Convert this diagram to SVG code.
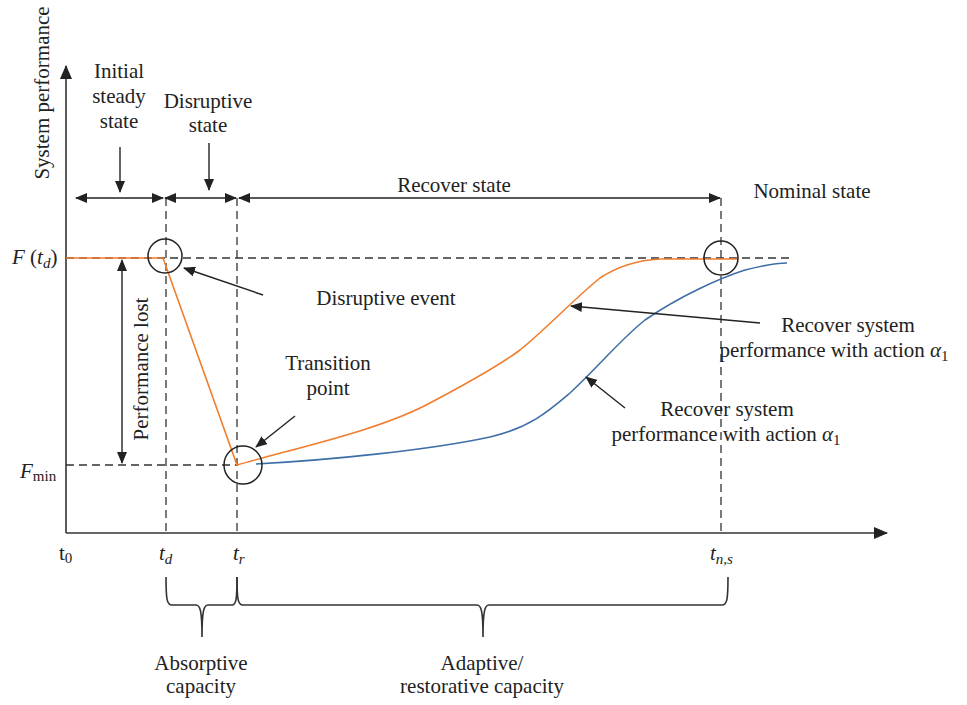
<svg xmlns="http://www.w3.org/2000/svg" width="967" height="705" viewBox="0 0 967 705">
<defs>
<marker id="ah" viewBox="0 0 12 10" refX="11" refY="5" markerWidth="12" markerHeight="10" markerUnits="userSpaceOnUse" orient="auto-start-reverse">
<path d="M0,0 L12,5 L0,10 Z" fill="#222"/>
</marker>
<marker id="ax" viewBox="0 0 14 12" refX="13" refY="6" markerWidth="14" markerHeight="12" markerUnits="userSpaceOnUse" orient="auto">
<path d="M0,0 L14,6 L0,12 Z" fill="#222"/>
</marker>
</defs>
<style>
text{font-family:'Liberation Serif','DejaVu Serif',serif;font-size:21px;fill:#222}
.it{font-style:italic}
.sub{font-size:15px}
.axis{stroke:#333;stroke-width:1.6;fill:none}
.dash{stroke:#333;stroke-width:1.3;stroke-dasharray:8,5;fill:none}
.arr{stroke:#222;stroke-width:1.4;fill:none}
.circ{stroke:#222;stroke-width:1.5;fill:none}
.brace{stroke:#333;stroke-width:1.6;fill:none}
</style>
<rect width="967" height="705" fill="#fff"/>
<g id="axes">
<line class="axis" x1="66" y1="533" x2="66" y2="66" marker-end="url(#ax)"/>
<line class="axis" x1="66" y1="533" x2="887" y2="533" marker-end="url(#ax)"/>
</g>
<g id="guides">
<line class="dash" x1="66" y1="258" x2="790" y2="258"/>
<line class="dash" x1="66" y1="465" x2="237" y2="465"/>
<line class="dash" x1="166" y1="198" x2="166" y2="533"/>
<line class="dash" x1="237" y1="198" x2="237" y2="533"/>
<line class="dash" x1="721" y1="198" x2="721" y2="533"/>
</g>
<g id="curves">
<path d="M66,258 L163,258 L237,465 C300,447 380,430 430,403 C470,382 500,365 520,350 C545,330 575,298 600,278 C620,265 640,260 660,259 L738,259" fill="none" stroke="#F07D2E" stroke-width="1.6"/>
<path d="M256,464 C330,460 430,450 490,437 C530,428 550,410 570,393 C600,365 620,340 645,320 C680,296 720,278 745,270 C765,265 780,263 787,263" fill="none" stroke="#3E6EA6" stroke-width="1.6"/>
</g>
<g id="circles">
<circle class="circ" cx="165" cy="256" r="17"/>
<circle class="circ" cx="243" cy="465" r="19"/>
<circle class="circ" cx="721" cy="258" r="17"/>
</g>
<g id="connectors">
<line class="arr" x1="76" y1="198" x2="163" y2="198" marker-start="url(#ah)" marker-end="url(#ah)"/>
<line class="arr" x1="165" y1="198" x2="236" y2="198" marker-start="url(#ah)" marker-end="url(#ah)"/>
<line class="arr" x1="239" y1="198" x2="720" y2="198" marker-start="url(#ah)" marker-end="url(#ah)"/>
<line class="arr" x1="120" y1="147" x2="120" y2="192" marker-end="url(#ah)"/>
<line class="arr" x1="209" y1="143" x2="209" y2="190" marker-end="url(#ah)"/>
<line class="arr" x1="122" y1="260" x2="122" y2="463" marker-start="url(#ah)" marker-end="url(#ah)"/>
<line class="arr" x1="263" y1="295" x2="184" y2="268" marker-end="url(#ah)"/>
<line class="arr" x1="295" y1="416" x2="256" y2="447" marker-end="url(#ah)"/>
<line class="arr" x1="760" y1="323" x2="571" y2="306" marker-end="url(#ah)"/>
<line class="arr" x1="625" y1="408" x2="586" y2="377" marker-end="url(#ah)"/>
</g>
<g id="braces">
<path class="brace" d="M166,577 C166,600 167,605 172,605 L196,605 C200,605 202,610 202,637 M202,637 C202,610 204,605 208,605 L232,605 C236,605 237,600 237,577"/>
<path class="brace" d="M237,577 C237,600 238,605 243,605 L477,605 C481,605 483,610 483,637 M483,637 C483,610 485,605 489,605 L722,605 C727,605 728,600 728,577"/>
</g>
<g id="labels">
<text x="49" y="93" text-anchor="middle" transform="rotate(-90 49 93)">System performance</text>
<text x="119" y="78" text-anchor="middle">Initial</text>
<text x="119" y="103" text-anchor="middle">steady</text>
<text x="119" y="128" text-anchor="middle">state</text>
<text x="208" y="108" text-anchor="middle">Disruptive</text>
<text x="208" y="132" text-anchor="middle">state</text>
<text x="454" y="192" text-anchor="middle">Recover state</text>
<text x="812" y="198" text-anchor="middle">Nominal state</text>
<text x="12" y="264"><tspan class="it">F</tspan> (<tspan class="it">t</tspan><tspan class="it sub" dy="4">d</tspan><tspan dy="-4">)</tspan></text>
<text x="20" y="478"><tspan class="it">F</tspan><tspan class="sub" dy="3">min</tspan></text>
<text x="148" y="369" text-anchor="middle" transform="rotate(-90 148 369)">Performance lost</text>
<text x="386" y="305" text-anchor="middle">Disruptive event</text>
<text x="328" y="370" text-anchor="middle">Transition</text>
<text x="328" y="395" text-anchor="middle">point</text>
<text x="848" y="332" text-anchor="middle">Recover system</text>
<text x="834" y="357" text-anchor="middle">performance with action <tspan class="it">α</tspan><tspan class="sub" dy="4">1</tspan></text>
<text x="727" y="416" text-anchor="middle">Recover system</text>
<text x="726" y="441" text-anchor="middle">performance with action <tspan class="it">α</tspan><tspan class="sub" dy="4">1</tspan></text>
<text x="59" y="560">t<tspan class="sub" dy="3">0</tspan></text>
<text x="159" y="560"><tspan class="it">t</tspan><tspan class="it sub" dy="4">d</tspan></text>
<text x="233" y="560"><tspan class="it">t</tspan><tspan class="it sub" dy="4">r</tspan></text>
<text x="710" y="560"><tspan class="it">t</tspan><tspan class="it sub" dy="4">n,s</tspan></text>
<text x="201" y="670" text-anchor="middle">Absorptive</text>
<text x="201" y="693" text-anchor="middle">capacity</text>
<text x="482" y="670" text-anchor="middle">Adaptive/</text>
<text x="482" y="693" text-anchor="middle">restorative capacity</text>
</g>
</svg>
